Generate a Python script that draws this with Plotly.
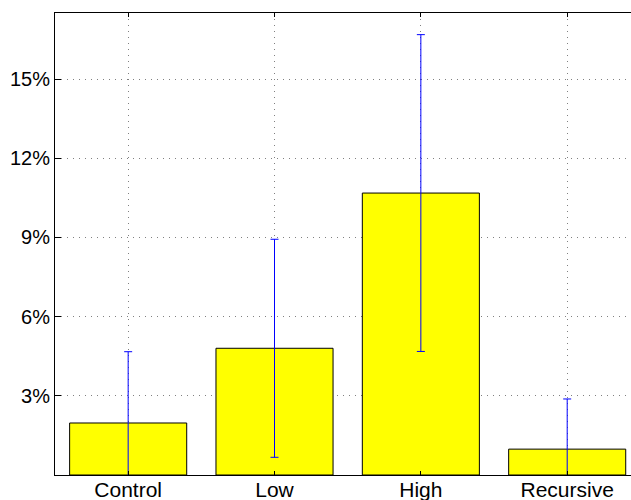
import plotly.graph_objects as go

# 조건별 평균 및 오차 (%)
categories = ["Control", "Low", "High", "Recursive"]
means = [1.97, 4.8, 10.68, 0.98]
errors = [2.7, 4.13, 6.0, 1.9]
tick_vals = [3, 6, 9, 12, 15]
tick_text = ["3%", "6%", "9%", "12%", "15%"]

fig = go.Figure()

fig.add_trace(go.Bar(
    x=categories,
    y=means,
    width=0.8,
    marker=dict(color="#ffff00", line=dict(color="black", width=1)),
    error_y=dict(type="data", array=errors, symmetric=True,
                 color="#0000ff", thickness=1, width=4),
))

fig.update_layout(
    width=631,
    height=500,
    paper_bgcolor="white",
    plot_bgcolor="white",
    font=dict(family="Liberation Sans, Arial, sans-serif", size=20, color="black"),
    showlegend=False,
    margin=dict(l=55, r=0, t=13, b=25),
    xaxis=dict(
        range=[-0.5, 3.436],
        automargin=False,
        showline=True, linecolor="black", linewidth=1, mirror="ticks",
        ticks="inside", ticklen=4, tickcolor="black",
        showgrid=True, gridcolor="#808080", gridwidth=1, griddash="1px,5px",
        tickfont=dict(size=21),
        ticklabelstandoff=-4,
    ),
    yaxis=dict(
        range=[0, 17.5],
        automargin=False,
        tickvals=tick_vals, ticktext=tick_text,
        showline=True, linecolor="black", linewidth=1,
        ticks="inside", ticklen=6, tickcolor="black",
        showgrid=True, gridcolor="#808080", gridwidth=1, griddash="1px,5px",
        zeroline=False,
        tickfont=dict(size=20),
    ),
)

# 페이지 여백 제거
fig.write_html("out.html", config={"displayModeBar": False},
               post_script="document.body.style.margin='0';")
